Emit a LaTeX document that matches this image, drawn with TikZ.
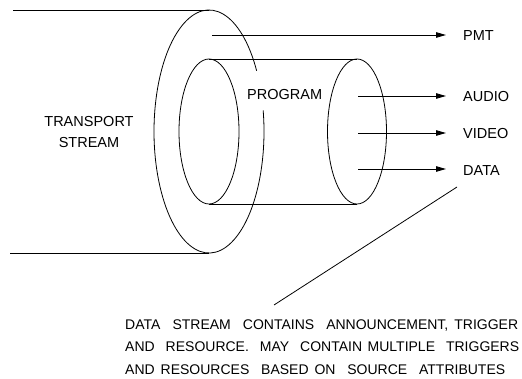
\documentclass[tikz,border=0pt]{standalone}
\usepackage{fontspec}
\setmainfont{Liberation Sans}
\usetikzlibrary{arrows.meta}
\tikzset{
  line/.style={line width=0.8pt, black},
  arr/.style={line width=0.8pt, -{Triangle[length=10pt,width=5.5pt]}},
  lbl/.style={font=\fontsize{14.5}{21}\selectfont, inner sep=0pt},
  note/.style={font=\fontsize{14}{22.5}\selectfont, inner sep=0pt, align=left, anchor=north west}
}
\begin{document}
\begin{tikzpicture}[x=1pt,y=1pt]
\useasboundingbox (0,0) rectangle (522,-379);
% outer tube (transport stream)
\coordinate (otl) at (13,-10);
\coordinate (otr) at (209,-10);
\coordinate (obl) at (10,-253);
\coordinate (obr) at (209,-253);
\draw[line] (otl) -- (otr);
\draw[line] (obl) -- (obr);
\draw[line] (256.63,-70.75) arc[start angle=30, end angle=370, x radius=55, y radius=121.5];
% inner tube (program)
\coordinate (itl) at (209,-59);
\coordinate (itr) at (357,-59);
\coordinate (ibl) at (209,-204);
\coordinate (ibr) at (357,-204);
\draw[line] (209,-131.5) ellipse[x radius=30, y radius=72.5];
\draw[line] (357,-131.5) ellipse[x radius=29.5, y radius=72.5];
\draw[line] (itl) -- (itr);
\draw[line] (ibl) -- (ibr);
% labels
\node[lbl, align=center] (ts) at (89,-132.5) {TRANSPORT\\STREAM};
\node[lbl, anchor=west] (prog) at (247,-95) {PROGRAM};
\node[lbl, anchor=west] (pmt) at (463,-35.5) {PMT};
\node[lbl, anchor=west] (audio) at (463,-97) {AUDIO};
\node[lbl, anchor=west] (video) at (463,-134) {VIDEO};
\node[lbl, anchor=west] (data) at (463,-170.5) {DATA};
% arrows
\coordinate (pmtS) at (212,-35);   \coordinate (pmtE) at (446,-35);
\coordinate (audS) at (358,-96);   \coordinate (audE) at (446,-96);
\coordinate (vidS) at (358,-133);  \coordinate (vidE) at (446,-133);
\coordinate (datS) at (358,-169);  \coordinate (datE) at (446,-169);
\draw[arr] (pmtS) -- (pmtE);
\draw[arr] (audS) -- (audE);
\draw[arr] (vidS) -- (vidE);
\draw[arr] (datS) -- (datE);
% note
\node[note] (nt) at (125,-319.5) {%
\makebox[393pt][s]{DATA\ \ STREAM\ \ CONTAINS\ \ ANNOUNCEMENT, TRIGGER}\\
\makebox[394pt][s]{AND\ \ RESOURCE.\ \ MAY\ \ CONTAIN MULTIPLE\ \ TRIGGERS}\\
\makebox[380pt][s]{AND RESOURCES\ \ BASED ON\ \ SOURCE\ \ ATTRIBUTES}};
\coordinate (ptr) at (457,-187);
\coordinate (ptrE) at (274,-305);
\draw[line] (ptr) -- (ptrE);
\end{tikzpicture}
\end{document}
